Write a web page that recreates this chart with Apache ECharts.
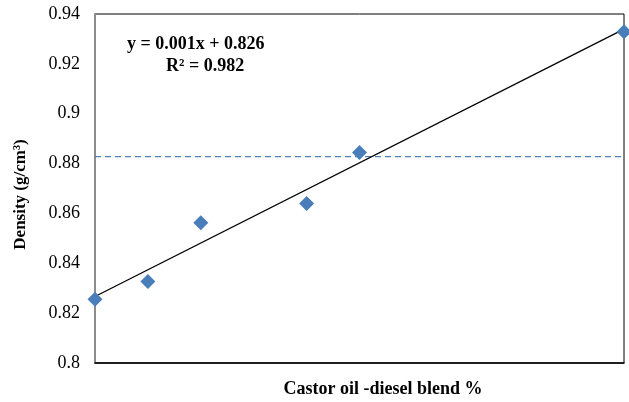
<!DOCTYPE html>
<html>
<head>
<meta charset="utf-8">
<script src="https://cdn.jsdelivr.net/npm/echarts@6/dist/echarts.min.js"></script>
<style>
  html, body { margin: 0; padding: 0; background: #fff; }
  #chart { width: 629px; height: 402px; }
</style>
</head>
<body>
<div id="chart"></div>
<script>
// blend percentage and measured density
const blendPct = [0, 10, 20, 40, 50, 100]
const density = [0.8256, 0.8327, 0.8563, 0.864, 0.8844, 0.9329]
const refDensity = 0.8828
const yTicks = [0.8, 0.82, 0.84, 0.86, 0.88, 0.9, 0.92, 0.94]

// least squares trendline from the data
const n = blendPct.length
const mx = blendPct.reduce((a, b) => a + b, 0) / n
const my = density.reduce((a, b) => a + b, 0) / n
let sxy = 0, sxx = 0
blendPct.forEach((x, i) => { sxy += (x - mx) * (density[i] - my); sxx += (x - mx) ** 2 })
const slope = sxy / sxx
const icpt = my - slope * mx
const trend = [[0, icpt], [100, icpt + slope * 100]]

const serif = '"Liberation Serif", "Times New Roman", serif'
const chart = echarts.init(document.getElementById('chart'))

chart.setOption({
  animation: false,
  textStyle: { fontFamily: serif },
  grid: {
    left: 95, right: 5, top: 14, bottom: 39,
    outerBoundsMode: 'none', containLabel: false,
    show: true, borderColor: '#000', borderWidth: 1
  },
  xAxis: {
    type: 'value', min: 0, max: 100,
    name: 'Castor oil -diesel blend %',
    nameLocation: 'middle', nameGap: 17,
    nameTextStyle: { fontFamily: serif, fontWeight: 'bold', fontSize: 18, color: '#000', padding: [0, 0, 0, 47] },
    axisLine: { lineStyle: { color: '#000', width: 1.5 } },
    axisTick: { show: false },
    axisLabel: { show: false },
    splitLine: { show: false }
  },
  yAxis: {
    type: 'value', min: 0.8, max: 0.94, interval: 0.02,
    name: 'Density (g/cm³)',
    nameLocation: 'middle', nameGap: 66,
    nameTextStyle: { fontFamily: serif, fontWeight: 'bold', fontSize: 17, color: '#000', padding: [0, 12, 0, 0] },
    axisLine: { show: true, lineStyle: { color: '#8c8c8c', width: 2 } },
    axisTick: { show: false },
    axisLabel: {
      fontFamily: serif, fontSize: 18, color: '#000', margin: 15,
      formatter: v => { const t = yTicks.find(k => Math.abs(k - v) < 1e-6); return t === undefined ? '' : String(t) }
    },
    splitLine: { show: false }
  },
  series: [
    {
      type: 'line',
      data: [[0, refDensity], [100, refDensity]],
      symbol: 'none',
      lineStyle: { color: '#4F81BD', type: [6, 4], width: 1.2 },
      z: 1
    },
    {
      type: 'line',
      data: trend,
      symbol: 'none',
      lineStyle: { color: '#000', width: 1.3 },
      z: 2
    },
    {
      type: 'scatter',
      data: blendPct.map((x, i) => [x, density[i]]),
      symbol: 'diamond',
      symbolSize: [15, 15],
      itemStyle: { color: '#4A7EBB', opacity: 1 },
      z: 3
    }
  ],
  graphic: [
    {
      type: 'text', left: 127, top: 35,
      style: { text: 'y = 0.001x + 0.826', font: 'bold 18px ' + serif, fill: '#000' }
    },
    {
      type: 'text', left: 166, top: 57,
      style: { text: 'R² = 0.982', font: 'bold 18px ' + serif, fill: '#000' }
    }
  ]
})
</script>
</body>
</html>
